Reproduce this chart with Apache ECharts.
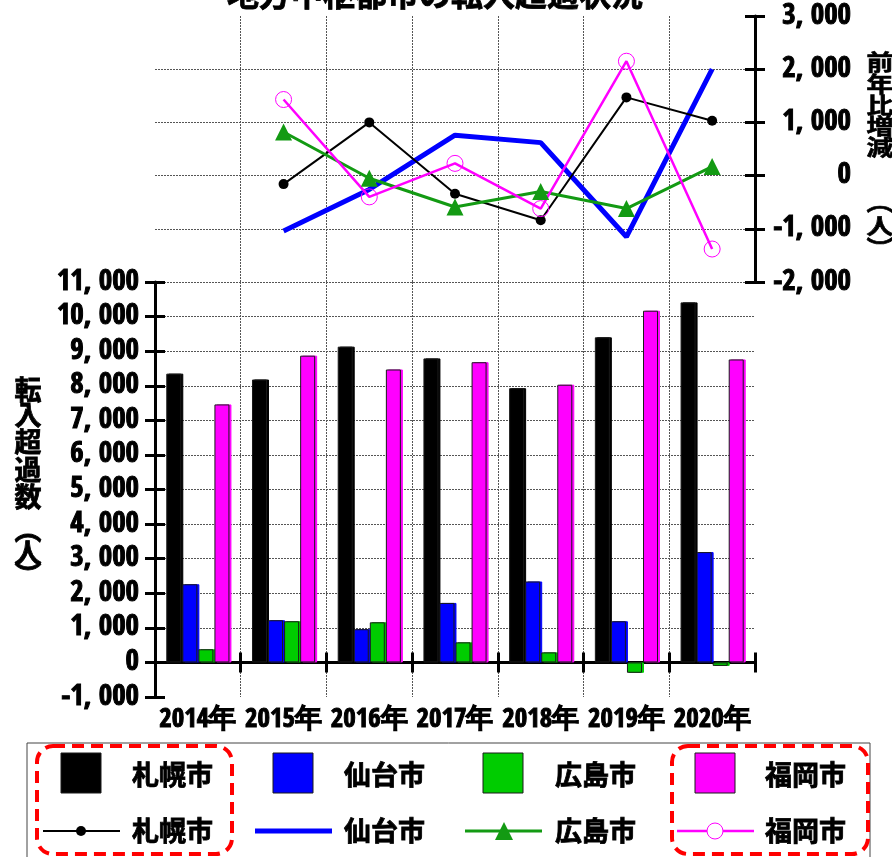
<!DOCTYPE html>
<html>
<head>
<meta charset="utf-8">
<script src="https://cdn.jsdelivr.net/npm/echarts@6/dist/echarts.min.js"></script>
<style>
  html, body { margin: 0; padding: 0; background: #ffffff; }
  #chart { width: 892px; height: 857px; }
</style>
</head>
<body>
<div id="chart"></div>
<script>
// Categories
const years = ['2014年', '2015年', '2016年', '2017年', '2018年', '2019年', '2020年'];
const cities = ['札幌市', '仙台市', '広島市', '福岡市'];

// Net in-migration (persons), 2014–2020
const sapporoNet   = [8350, 8180, 9130, 8790, 7930, 9400, 10410];
const sendaiNet    = [2260, 1220, 960, 1720, 2340, 1190, 3190];
const hiroshimaNet = [380, 1190, 1160, 580, 290, -300, -100];
const fukuokaNet   = [7460, 8870, 8470, 8680, 8030, 10170, 8760];

// Change from previous year (persons), 2015–2020
const sapporoChange   = [-160, 1000, -340, -840, 1470, 1030];
const sendaiChange    = [-1040, -260, 760, 620, -1150, 2000];
const hiroshimaChange = [820, -50, -590, -300, -620, 170];
const fukuokaChange   = [1430, -400, 230, -620, 2150, -1380];

// Axis ranges
const netAxis = { min: -1000, max: 11000, interval: 1000 };
const changeAxis = { min: -2000, max: 3000, interval: 1000 };

const barColors  = ['#000000', '#0000ff', '#00cc00', '#ff00ff'];
const lineColors = ['#000000', '#0000ff', '#139a13', '#ff00ff'];

const numFont = "'Open Sans Condensed', 'DejaVu Sans Condensed', sans-serif";
const cjkFont = "'Noto Sans CJK JP', sans-serif";

const fmt = v => v.toLocaleString('en-US').replace(/,/g, ', ');

const gridLine = { show: true, lineStyle: { color: '#555', width: 1, type: [2, 1] } };
const axisBlack = { color: '#000', width: 3 };
// heavy lettering: bold face plus a thin outline in the same colour
const heavy = { textBorderColor: '#000', textBorderWidth: 1 };
const heavyText = { stroke: '#000', lineWidth: 0.8 };

const chart = echarts.init(document.getElementById('chart'), null, { renderer: 'canvas' });

const netSeries = [sapporoNet, sendaiNet, hiroshimaNet, fukuokaNet].map((d, i) => ({
  name: cities[i],
  type: 'bar',
  xAxisIndex: 0,
  yAxisIndex: 0,
  barWidth: 15,
  barGap: '7%',
  data: d,
  itemStyle: {
    color: barColors[i],
    borderColor: '#1a1a1a',
    borderWidth: 1,
    shadowColor: barColors[i],
    shadowOffsetX: 2,
    shadowOffsetY: 0,
    shadowBlur: 0
  },
  z: 3
}));

const lineStyles = [
  { width: 2, symbol: 'circle', size: 10, fill: '#000', border: 0 },
  { width: 5, symbol: 'none', size: 0, fill: '#0000ff', border: 0 },
  { width: 3, symbol: 'triangle', size: 17, fill: '#139a13', border: 0 },
  { width: 2.5, symbol: 'circle', size: 16, fill: 'rgba(0,0,0,0)', border: 1 }
];
const changeData = [sapporoChange, sendaiChange, hiroshimaChange, fukuokaChange];
const drawOrder = [1, 0, 2, 3];
const changeSeries = drawOrder.map(i => ({
  name: cities[i] + ' 前年比',
  type: 'line',
  xAxisIndex: 2,
  yAxisIndex: 2,
  data: ['-'].concat(changeData[i]),
  symbol: lineStyles[i].symbol,
  symbolSize: lineStyles[i].size,
  showSymbol: lineStyles[i].symbol !== 'none',
  lineStyle: { color: lineColors[i], width: lineStyles[i].width },
  itemStyle: {
    color: lineStyles[i].fill,
    borderColor: lineColors[i],
    borderWidth: lineStyles[i].border
  },
  z: 4
}));

// Legend (two rows: bars, then lines) and framing graphics
const legendCols = [61, 273, 483, 695];
const legendTextX = [132, 344, 555, 765];
const legendGraphics = [];
legendGraphics.push({
  type: 'rect', shape: { x: 27, y: 743, width: 843, height: 130 },
  style: { fill: '#fff', stroke: '#444', lineWidth: 1 }, z: 1
});
cities.forEach((c, i) => {
  legendGraphics.push({
    type: 'rect', shape: { x: legendCols[i], y: 753, width: 40, height: 40 },
    style: { fill: barColors[i], stroke: '#1a1a1a', lineWidth: 1 }, z: 2
  });
  [775, 831].forEach(y => {
    legendGraphics.push({
      type: 'text', x: legendTextX[i], y: y,
      style: Object.assign({ text: c, font: "bold 27px " + cjkFont, fill: '#000', align: 'left', verticalAlign: 'middle' }, heavyText),
      z: 2
    });
  });
  const lx = legendCols[i] - 18;
  legendGraphics.push({
    type: 'line', shape: { x1: lx, y1: 831, x2: lx + 77, y2: 831 },
    style: { stroke: lineColors[i], lineWidth: lineStyles[i].width }, z: 2
  });
});
legendGraphics.push({
  type: 'circle', shape: { cx: 81, cy: 831, r: 5 }, style: { fill: '#000' }, z: 3
});
legendGraphics.push({
  type: 'polygon', shape: { points: [[504, 822], [513, 840], [495, 840]] }, style: { fill: lineColors[2] }, z: 3
});
legendGraphics.push({
  type: 'circle', shape: { cx: 715, cy: 831, r: 8 }, style: { fill: '#fff', stroke: '#ff00ff', lineWidth: 1 }, z: 3
});
[[37, 232], [672, 868]].forEach(([x1, x2]) => {
  legendGraphics.push({
    type: 'rect', shape: { x: x1, y: 746, width: x2 - x1, height: 108, r: 16 },
    style: { fill: 'none', stroke: '#ff0000', lineWidth: 4, lineDash: [12, 7] }, z: 4
  });
});

// Vertical axis titles (one glyph per line, vertical-form brackets)
function verticalTitle(chars, x, centers, size, squash) {
  return chars.map((ch, k) => ({
    type: 'text', x: x, y: centers[k], scaleY: squash,
    style: Object.assign({ text: ch, font: 'bold ' + size + 'px ' + cjkFont, fill: '#000', align: 'center', verticalAlign: 'middle' }, heavyText),
    z: 5
  }));
}
const leftTitle = verticalTitle(['転', '入', '超', '過', '数', '︵', '人', '︶'], 28,
  [390, 415, 442, 470, 497, 530, 553, 575], 27, 1);
const rightTitle = verticalTitle(['前', '年', '比', '増', '減', '︵', '人', '︶'], 880,
  [62, 84, 105, 126, 147, 202, 226, 248], 27, 0.8);

const option = {
  backgroundColor: '#ffffff',
  animation: false,
  grid: [
    { left: 155, right: 137, top: 282, bottom: 160, containLabel: false },
    { left: 155, right: 137, top: 16, bottom: 575, containLabel: false }
  ],
  xAxis: [
    {
      gridIndex: 0, type: 'category', data: years, position: 'bottom',
      axisLine: { show: true, onZero: true, lineStyle: axisBlack },
      axisTick: { show: true, length: 10, lineStyle: axisBlack },
      axisLabel: Object.assign({ interval: 0, margin: 9, color: '#000', fontFamily: numFont, fontWeight: 'bold', fontSize: 27 }, heavy),
      splitLine: Object.assign({ showMinLine: false, showMaxLine: false }, gridLine)
    },
    {
      gridIndex: 0, type: 'category', data: years, position: 'bottom',
      axisLine: { show: false, onZero: true, onZeroAxisIndex: 0 },
      axisTick: { show: true, inside: true, length: 10, lineStyle: axisBlack },
      axisLabel: { show: false },
      splitLine: { show: false }
    },
    {
      gridIndex: 1, type: 'category', data: years, position: 'bottom',
      axisLine: { show: false },
      axisTick: { show: false },
      axisLabel: { show: false },
      splitLine: Object.assign({ showMinLine: false, showMaxLine: false }, gridLine)
    }
  ],
  yAxis: [
    {
      gridIndex: 0, type: 'value', position: 'left',
      min: netAxis.min, max: netAxis.max, interval: netAxis.interval,
      axisLine: { show: true, lineStyle: axisBlack },
      axisTick: { show: true, length: 10, lineStyle: axisBlack },
      axisLabel: Object.assign({ margin: 16, color: '#000', fontFamily: numFont, fontWeight: 'bold', fontSize: 29, formatter: fmt }, heavy),
      splitLine: Object.assign({ showMinLine: false, showMaxLine: true }, gridLine)
    },
    {
      gridIndex: 0, type: 'value', position: 'left',
      min: netAxis.min, max: netAxis.max, interval: netAxis.interval,
      axisLine: { show: false },
      axisTick: { show: true, inside: true, length: 10, lineStyle: axisBlack },
      axisLabel: { show: false },
      splitLine: { show: false }
    },
    {
      gridIndex: 1, type: 'value', position: 'right',
      min: changeAxis.min, max: changeAxis.max, interval: changeAxis.interval,
      axisLine: { show: true, lineStyle: axisBlack },
      axisTick: { show: true, length: 10, lineStyle: axisBlack },
      axisLabel: Object.assign({ margin: 96, align: 'right', color: '#000', fontFamily: numFont, fontWeight: 'bold', fontSize: 29, formatter: fmt }, heavy),
      splitLine: Object.assign({ showMinLine: true, showMaxLine: false }, gridLine)
    },
    {
      gridIndex: 1, type: 'value', position: 'right',
      min: changeAxis.min, max: changeAxis.max, interval: changeAxis.interval,
      axisLine: { show: false },
      axisTick: { show: true, inside: true, length: 10, lineStyle: axisBlack },
      axisLabel: { show: false },
      splitLine: { show: false }
    }
  ],
  series: netSeries.concat(changeSeries),
  graphic: [
    {
      type: 'text', x: 435, y: -6,
      style: Object.assign({ text: '地方中枢都市の転入超過状況', font: 'bold 32px ' + cjkFont, fill: '#000', align: 'center', verticalAlign: 'middle' }, heavyText),
      z: 5
    }
  ].concat(leftTitle, rightTitle, legendGraphics)
};

chart.setOption(option);
</script>
</body>
</html>
